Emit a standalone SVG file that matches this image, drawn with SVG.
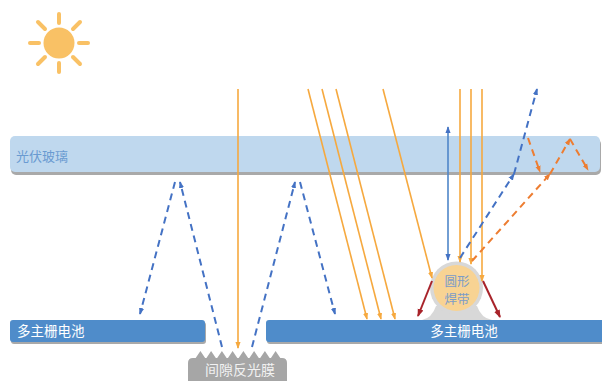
<svg xmlns="http://www.w3.org/2000/svg" width="602" height="381" viewBox="0 0 602 381">
  <style>
    .cjk { font-family: "Noto Sans CJK SC", "Noto Sans", sans-serif; }
    .shadow { fill: #a9a9a9; }
    .cell { fill: #4f8cca; }
    .cell-text { fill: #ffffff; font-size: 13.5px; }
    .sun-ray { stroke: #f9c165; stroke-width: 4; stroke-linecap: round; }
    .ray { stroke: #f6a93f; stroke-width: 1.6; fill: none; }
    .ray-blue { stroke: #4f86c8; stroke-width: 1.6; fill: none; }
    .dash-blue { stroke: #4472c4; stroke-width: 2; stroke-dasharray: 7 5; fill: none; }
    .dash-orange { stroke: #ed7d31; stroke-width: 2; stroke-dasharray: 7 5; fill: none; }
    .ray-red { stroke: #a8232a; stroke-width: 2; fill: none; }
  </style>
  <defs>
    <marker id="arrow-orange" viewBox="0 0 8 6" refX="7" refY="3" markerWidth="7" markerHeight="6" markerUnits="userSpaceOnUse" orient="auto">
      <path d="M0,0 L8,3 L0,6 z" fill="#f6a93f"/>
    </marker>
    <marker id="arrow-blue" viewBox="0 0 8 6" refX="7" refY="3" markerWidth="7" markerHeight="6" markerUnits="userSpaceOnUse" orient="auto-start-reverse">
      <path d="M0,0 L8,3 L0,6 z" fill="#4472c4"/>
    </marker>
    <marker id="arrow-dorange" viewBox="0 0 8 6" refX="7" refY="3" markerWidth="7" markerHeight="6" markerUnits="userSpaceOnUse" orient="auto">
      <path d="M0,0 L8,3 L0,6 z" fill="#ed7d31"/>
    </marker>
    <marker id="arrow-red" viewBox="0 0 8 6" refX="7" refY="3" markerWidth="8" markerHeight="7" markerUnits="userSpaceOnUse" orient="auto">
      <path d="M0,0 L8,3 L0,6 z" fill="#a8232a"/>
    </marker>
  </defs>

  <rect width="602" height="381" fill="#ffffff"/>

  <!-- sun -->
  <g id="sun">
    <circle cx="59" cy="43" r="15.5" fill="#f9c165"/>
    <line class="sun-ray" x1="59" y1="14" x2="59" y2="23"/>
    <line class="sun-ray" x1="59" y1="63" x2="59" y2="72"/>
    <line class="sun-ray" x1="30" y1="43" x2="39" y2="43"/>
    <line class="sun-ray" x1="79" y1="43" x2="88" y2="43"/>
    <line class="sun-ray" x1="38" y1="22" x2="45" y2="29"/>
    <line class="sun-ray" x1="73" y1="57" x2="80" y2="64"/>
    <line class="sun-ray" x1="80" y1="22" x2="73" y2="29"/>
    <line class="sun-ray" x1="45" y1="57" x2="38" y2="64"/>
  </g>

  <!-- PV glass -->
  <g id="glass">
    <rect class="shadow" x="11" y="139" width="590" height="36" rx="5"/>
    <rect x="10" y="136" width="590" height="36" rx="5" fill="#bfd8ee"/>
    <text class="cjk" x="16" y="161" font-size="13" fill="#6a9bd1">光伏玻璃</text>
  </g>

  <!-- left cell -->
  <g id="cell-left">
    <rect class="shadow" x="11" y="322" width="195" height="22" rx="3"/>
    <rect class="cell" x="10" y="320" width="195" height="22" rx="3"/>
    <text class="cjk cell-text" x="17" y="336">多主栅电池</text>
  </g>

  <!-- round ribbon -->
  <g id="ribbon">
    <path d="M436,306 Q432,318 422,320 L492,320 Q481,318 477,306 Z" fill="#d8d8d8"/>
    <circle cx="456.5" cy="288" r="26.5" fill="#d8d8d8"/>
    <circle cx="456.5" cy="288" r="23" fill="#f8d393"/>
    <text class="cjk" x="457" y="285.5" font-size="12.5" fill="#7b9cc8" text-anchor="middle">圆形</text>
    <text class="cjk" x="457" y="304" font-size="12.5" fill="#7b9cc8" text-anchor="middle">焊带</text>
  </g>

  <!-- right cell -->
  <g id="cell-right">
    <rect class="shadow" x="267" y="322" width="340" height="22" rx="3"/>
    <rect class="cell" x="266" y="320" width="340" height="22" rx="3"/>
    <text class="cjk cell-text" x="464" y="336" text-anchor="middle">多主栅电池</text>
  </g>

  <!-- gap reflective film -->
  <g id="film">
    <path d="M195,359 L200.4,351 L205.8,359 L211.1,351 L216.5,359 L221.9,351 L227.3,359 L232.6,351 L238,359 L243.4,351 L248.8,359 L254.1,351 L259.5,359 L264.9,351 L270.3,359 L275.6,351 L281,359 Z" fill="#a6a6a6"/>
    <path d="M188,386 L188,363 Q188,358 193,358 L282,358 Q287,358 287,363 L287,386 Z" fill="#a6a6a6"/>
    <text class="cjk" x="240" y="375" font-size="14" fill="#f2f2f2" text-anchor="middle">间隙反光膜</text>
  </g>

  <!-- light paths -->
  <g id="connectors">
    <!-- incoming sunlight -->
    <line class="ray" x1="238" y1="89" x2="238" y2="348" marker-end="url(#arrow-orange)"/>
    <line class="ray" x1="308" y1="89" x2="367" y2="319" marker-end="url(#arrow-orange)"/>
    <line class="ray" x1="322" y1="89" x2="381" y2="319" marker-end="url(#arrow-orange)"/>
    <line class="ray" x1="336" y1="89" x2="395" y2="319" marker-end="url(#arrow-orange)"/>
    <line class="ray" x1="383" y1="89" x2="432" y2="278" marker-end="url(#arrow-orange)"/>
    <line class="ray" x1="460" y1="89" x2="460" y2="262" marker-end="url(#arrow-orange)"/>
    <line class="ray" x1="471" y1="89" x2="471" y2="264" marker-end="url(#arrow-orange)"/>
    <line class="ray" x1="482" y1="89" x2="482" y2="281" marker-end="url(#arrow-orange)"/>

    <!-- direct reflection off the glass -->
    <line class="ray-blue" x1="448" y1="127" x2="448" y2="260" marker-start="url(#arrow-blue)" marker-end="url(#arrow-blue)"/>

    <!-- film reflections trapped under the glass -->
    <line class="dash-blue" x1="222" y1="347" x2="180" y2="182" marker-end="url(#arrow-blue)"/>
    <line class="dash-blue" x1="175" y1="182" x2="140" y2="314" marker-end="url(#arrow-blue)"/>
    <line class="dash-blue" x1="252" y1="347" x2="295" y2="182" marker-end="url(#arrow-blue)"/>
    <line class="dash-blue" x1="300" y1="182" x2="335" y2="314" marker-end="url(#arrow-blue)"/>

    <!-- ribbon reflections -->
    <line class="dash-blue" x1="460" y1="258" x2="514" y2="174" marker-end="url(#arrow-blue)"/>
    <line class="dash-blue" x1="514" y1="174" x2="537" y2="89" marker-end="url(#arrow-blue)"/>
    <line class="dash-orange" x1="472" y1="261" x2="550" y2="174" marker-end="url(#arrow-dorange)"/>
    <line class="dash-orange" x1="550" y1="174" x2="570" y2="139" marker-end="url(#arrow-dorange)"/>
    <line class="dash-orange" x1="570" y1="139" x2="588" y2="170" marker-end="url(#arrow-dorange)"/>
    <line class="dash-orange" x1="528" y1="138" x2="540" y2="172" marker-end="url(#arrow-dorange)"/>

    <!-- scattered onto the cell -->
    <line class="ray-red" x1="432" y1="281" x2="418" y2="316" marker-end="url(#arrow-red)"/>
    <line class="ray-red" x1="483" y1="281" x2="500" y2="317" marker-end="url(#arrow-red)"/>
  </g>
</svg>
